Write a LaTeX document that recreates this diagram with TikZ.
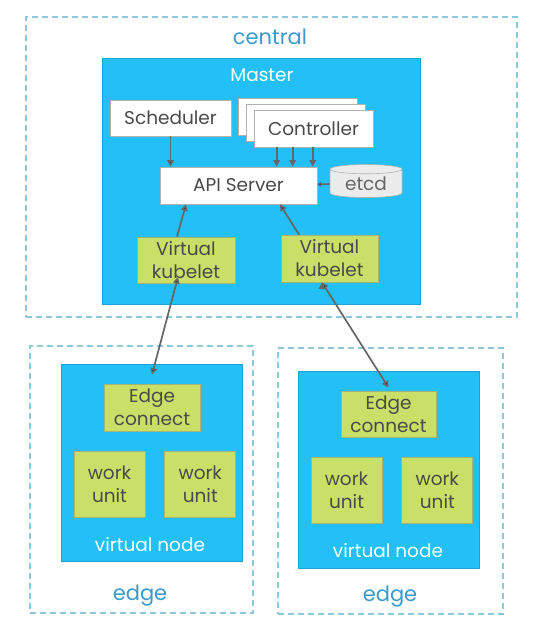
\documentclass[tikz,border=0pt]{standalone}
\usepackage{fontspec}
\setmainfont{Poppins}
\usetikzlibrary{positioning,shapes.geometric,arrows.meta}
\definecolor{kblue}{HTML}{22C0F6}
\definecolor{kgreen}{HTML}{C9DF68}
\definecolor{kline}{HTML}{8DC8DD}
\definecolor{klabel}{HTML}{3B9ACB}
\definecolor{ktext}{HTML}{4A4A4A}
\definecolor{karrow}{HTML}{666666}
\tikzset{zone node/.style={draw=kline, dash pattern=on 6pt off 4pt, line width=1.2pt, inner sep=0pt},
  blue node/.style={fill=kblue, draw=kblue!85!black, line width=0.6pt, inner sep=0pt},
  white node/.style={fill=white, draw=gray!60, line width=0.6pt, text=ktext, font=\fontsize{18.5}{21}\selectfont, inner sep=0pt},
  green node/.style={fill=kgreen, draw=kgreen!55!gray, line width=0.8pt, text=ktext, font=\fontsize{18.5}{23}\selectfont, align=center, inner sep=0pt},
  db node/.style={cylinder, shape border rotate=90, aspect=0.22, fill=gray!15, draw=gray!60, line width=0.6pt, text=gray!80!black, font=\fontsize{18.5}{21}\selectfont, minimum width=72pt, minimum height=33pt, inner sep=0pt},
  zone label/.style={text=klabel, font=\fontsize{21}{24}\selectfont},
  box label/.style={text=white, font=\fontsize{18.5}{21}\selectfont},}

\begin{document}
\begin{tikzpicture}[x=1pt, y=-1pt, ->, >={Triangle[length=6.5pt,width=6.5pt]}]
        \useasboundingbox (0,0) rectangle (537,643);
        % Central
        \node[zone node, minimum width=491pt, minimum height=300pt] (1) at (271.5,167) {};
        \node[zone label] (2) at (270,37) {central};
        \node[blue node, minimum width=318pt, minimum height=246pt] (3) at (261,181) {};
        \node[box label] (4) at (262,75) {Master};
        \node[white node, minimum width=121pt, minimum height=36pt] (5) at (170.5,118) {Scheduler};
        \node[white node, minimum width=119pt, minimum height=37pt] (6) at (297.5,116.5) {};
        \node[white node, minimum width=119pt, minimum height=37pt] (7) at ([shift={(8pt,-6pt)}]6) {};
        \node[white node, minimum width=119pt, minimum height=37pt] (8) at ([shift={(8pt,-6pt)}]7) {Controller};
        \node[white node, minimum width=157pt, minimum height=37pt] (9) at (238.5,185.5) {API Server};
        \node[db node] (10) at (366,183.5) {etcd};
        \node[green node, minimum width=98pt, minimum height=46pt] (11) at (186,260) {Virtual\\kubelet};
        \node[green node, minimum width=97pt, minimum height=47pt] (12) at (329.5,258.5) {Virtual\\kubelet};
        % Left edge
        \node[zone node, minimum width=223pt, minimum height=267pt] (13) at (141.5,479.5) {};
        \node[zone label] (14) at (140,596) {edge};
        \node[blue node, minimum width=181pt, minimum height=197pt] (15) at (151.5,462.5) {};
        \node[box label] (16) at (150,545) {virtual node};
        \node[green node, minimum width=96pt, minimum height=47pt] (17) at (152,407.5) {Edge\\connect};
        \node[green node, minimum width=71pt, minimum height=66pt] (18) at (109.5,484) {work\\unit};
        \node[green node, minimum width=71pt, minimum height=66pt] [right=19pt of 18] (19) {work\\unit};
        % Right edge
        \node[zone node, minimum width=225pt, minimum height=266pt] (20) at (390.5,481) {};
        \node[zone label] (21) at (390,597) {edge};
        \node[blue node, minimum width=181pt, minimum height=197pt] (22) at (388.5,469.5) {};
        \node[box label] (23) at (388,551) {virtual node};
        \node[green node, minimum width=95pt, minimum height=46pt] (24) at (388.5,414) {Edge\\connect};
        \node[green node, minimum width=71pt, minimum height=66pt] (25) at (346.5,490) {work\\unit};
        \node[green node, minimum width=71pt, minimum height=66pt] [right=19pt of 25] (26) {work\\unit};
        % Paths
        \path[draw=karrow, line width=1.7pt]
        (5) edge (5 |- 9.north)
        (10) edge [-{Triangle[length=4pt,width=5pt]}] (9)
        ([xshift=-9pt]11.north) edge ([xshift=-52.5pt]9.south)
        ([xshift=-30.5pt]12.north) edge ([xshift=41.5pt]9.south)
        ([shift={(-8pt,-17pt)}]11.center) edge [<->] ([yshift=9pt]17.north)
        ([xshift=-7.5pt]12.south) edge [<->] ([yshift=3pt]24.north);
        \foreach \a/\b in {23/117,39/133,59/153}
        \draw[karrow, line width=1.7pt] ([xshift=\a pt]8.south west) -- ([xshift=\b pt]9.north west);
    \end{tikzpicture}
\end{document}
